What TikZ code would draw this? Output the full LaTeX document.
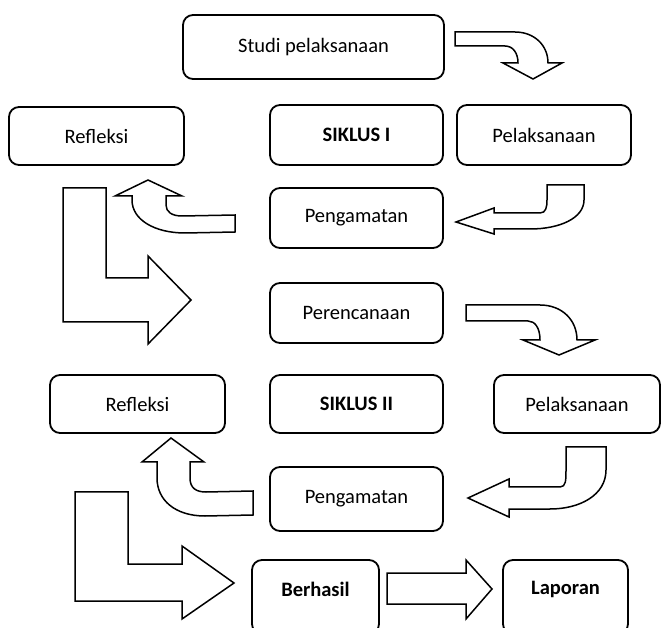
\documentclass[tikz,border=0pt]{standalone}
\usepackage{fontspec}
\setmainfont{Carlito}
\begin{document}
\begin{tikzpicture}[x=1pt,y=-1pt,
  box/.style={draw=black, line width=1.8pt, rounded corners=10pt, align=center,
    font=\fontsize{20.5}{24}\selectfont, inner sep=0pt},
  lbl/.style={font=\fontsize{20.5}{24}\selectfont, inner sep=0pt},
  blockarrow/.style={draw=black, fill=white, line width=1.5pt, line join=miter}]
\clip (0,0) rectangle (662,628);
\fill[white] (0,0) rectangle (662,628);
% boxes
\node[box, minimum width=261pt, minimum height=64pt] (studi) at (313.5,47) {Studi pelaksanaan};
\node[box, minimum width=175pt, minimum height=58pt] (ref1) at (96.5,136) {Refleksi};
\node[box, minimum width=173pt, minimum height=60pt] (sik1) at (356.5,135) {\textbf{SIKLUS I}};
\node[box, minimum width=174pt, minimum height=60pt] (pel1) at (544,135) {Pelaksanaan};
\node[box, minimum width=173pt, minimum height=60pt] (peng1) at (356.5,218) {Pengamatan};
\node[box, minimum width=173pt, minimum height=60pt] (peren) at (356.5,313) {Perencanaan};
\node[box, minimum width=175pt, minimum height=58pt] (ref2) at (137.5,404) {Refleksi};
\node[box, minimum width=173pt, minimum height=58pt] (sik2) at (356.5,404) {\textbf{SIKLUS II}};
\node[box, minimum width=166pt, minimum height=58pt] (pel2) at (577,404) {Pelaksanaan};
\node[box, minimum width=173pt, minimum height=64pt] (peng2) at (356.5,499) {Pengamatan};
\node[box, minimum width=127pt, minimum height=74pt] (berhasil) at (315.5,597) {};
\node[lbl] (berhasilT) at (315.5,589) {\textbf{Berhasil}};
\node[box, minimum width=125pt, minimum height=74pt] (laporan) at (565.5,597) {};
\node[lbl] (laporanT) at (565.5,589) {\textbf{Laporan}};
% A1: studi -> pelaksanaan
\draw[blockarrow] (455,32) -- (515,32) .. controls (534,32) and (548,45) .. (548,63)
  -- (562,63) -- (533,79) -- (503,63) -- (518,63)
  .. controls (518,53) and (513,46) .. (505,46) -- (455,46) -- cycle;
% A2: pelaksanaan -> pengamatan
\draw[blockarrow] (456,222) -- (494,208) -- (494,213) -- (540,213)
  .. controls (546,213) and (547,207) .. (547,200) -- (547,185) -- (584,185) -- (584,200)
  .. controls (584,218) and (560,229) .. (530,229) -- (494,229) -- (494,234) -- cycle;
% A3: pengamatan -> refleksi
\draw[blockarrow] (148,180) -- (182,196) -- (166,196) -- (166,205)
  .. controls (166,212) and (172,216) .. (182,216) -- (235,215) -- (235,232) -- (185,233)
  .. controls (155,233) and (132,220) .. (132,200) -- (132,196) -- (115,196) -- cycle;
% L1
\draw[blockarrow] (63,188) -- (106,188) -- (106,278) -- (148,278) -- (148,256) -- (191,300)
  -- (148,344) -- (148,322) -- (63,322) -- cycle;
% A4: perencanaan -> pelaksanaan 2
\draw[blockarrow] (466,305) -- (540,305) .. controls (562,305) and (577,320) .. (577,340)
  -- (595,340) -- (559,355) -- (523,340) -- (540,340)
  .. controls (540,328) and (535,321) .. (528,321) -- (466,321) -- cycle;
% A5: pelaksanaan 2 -> pengamatan 2
\draw[blockarrow] (468,498) -- (509,479) -- (509,487) -- (560,487)
  .. controls (566,487) and (566,480) .. (566,470) -- (566,447) -- (606,447) -- (606,470)
  .. controls (606,495) and (580,509) .. (550,509) -- (509,509) -- (509,517) -- cycle;
% A6: pengamatan 2 -> refleksi 2
\draw[blockarrow] (171,438) -- (204,462) -- (190,462) -- (190,478)
  .. controls (190,488) and (196,492) .. (206,492) -- (253,491) -- (253,515) -- (205,516)
  .. controls (175,516) and (157,500) .. (157,478) -- (157,462) -- (142,462) -- cycle;
% L2
\draw[blockarrow] (75,492) -- (128,492) -- (128,564) -- (182,564) -- (182,546) -- (234,583)
  -- (182,619) -- (182,601) -- (75,601) -- cycle;
% A7: berhasil -> laporan
\draw[blockarrow] (387,573) -- (466,573) -- (466,560) -- (492,589) -- (466,619)
  -- (466,604) -- (387,604) -- cycle;
\end{tikzpicture}
\end{document}
